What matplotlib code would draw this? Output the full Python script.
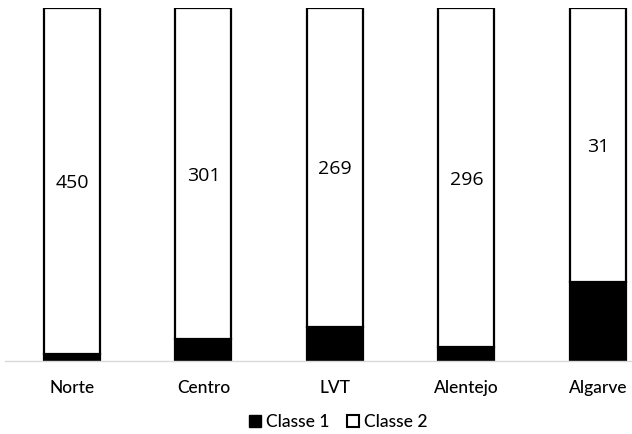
import matplotlib
matplotlib.use("Agg")
import matplotlib.pyplot as plt
import numpy as np
from matplotlib.patches import Patch

plt.rcParams['font.family'] = ['Lato', 'DejaVu Sans']

regions = ["Norte", "Centro", "LVT", "Alentejo", "Algarve"]
classe1 = [9, 20, 29, 12, 9]
classe2 = [450, 301, 269, 296, 31]

c1 = np.array(classe1, dtype=float)
c2 = np.array(classe2, dtype=float)
tot = c1 + c2
p1 = c1 / tot
p2 = c2 / tot

fig = plt.figure(figsize=(6.32, 4.34), dpi=100)
ax = fig.add_axes([5 / 632, (434 - 361) / 434, 627 / 632, 353 / 434])

x = np.arange(len(regions))
w = 0.426
ax.bar(x, p1, w, color='black', edgecolor='black', linewidth=1.6, label='Classe 1')
ax.bar(x, p2, w, bottom=p1, color='white', edgecolor='black', linewidth=1.6, label='Classe 2')

# value of Classe 2 written in the middle of its segment
for xi, b, h, v in zip(x, p1, p2, classe2):
    ax.text(xi, b + h / 2 - 0.006, str(v), ha='center', va='center', fontsize=14,
            color='black', family=['Open Sans', 'DejaVu Sans'])

ax.set_xlim(-0.51, 4.26)
ax.set_ylim(0, 1)
ax.set_yticks([])
ax.set_xticks(x)
ax.set_xticklabels(regions, fontsize=12.5, fontweight='medium')
ax.tick_params(axis='x', length=0, pad=14)
for s in ['top', 'right', 'left']:
    ax.spines[s].set_visible(False)
ax.spines['bottom'].set_color('#d9d9d9')
ax.spines['bottom'].set_linewidth(1.0)

handles = [Patch(facecolor='black', edgecolor='black', label='Classe 1'),
           Patch(facecolor='white', edgecolor='black', linewidth=1.5, label='Classe 2')]
fig.legend(handles=handles, loc='center', bbox_to_anchor=(338 / 632, 1 - 422 / 434),
           ncol=2, frameon=False, prop={'size': 12.6, 'weight': 'medium'},
           handlelength=0.72, handleheight=0.72, handletextpad=0.25, columnspacing=1.0)

fig.savefig('out.png', dpi=100, facecolor='white')
